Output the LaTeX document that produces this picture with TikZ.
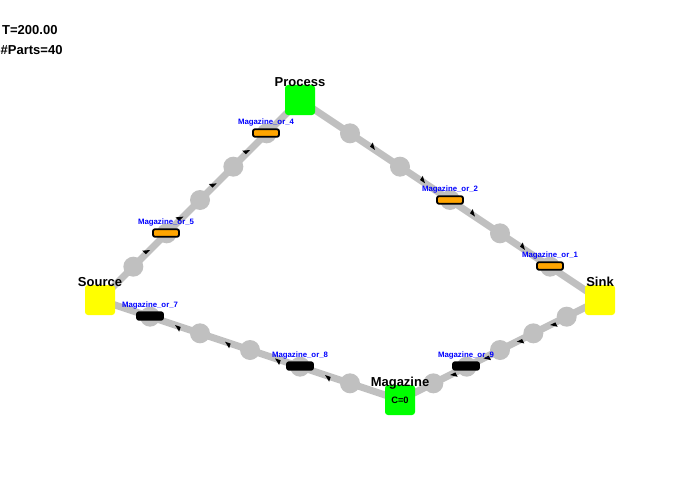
\documentclass[tikz,border=0pt]{standalone}
\usepackage{fontspec}
\setmainfont{Liberation Sans}
\usetikzlibrary{calc,arrows.meta,decorations.markings,backgrounds}

\definecolor{trackgray}{RGB}{192,192,192}
\definecolor{stngreen}{RGB}{0,255,0}
\definecolor{stnyellow}{RGB}{255,255,0}
\definecolor{magorange}{RGB}{255,165,0}
\definecolor{lblblue}{RGB}{0,0,255}

\newcommand{\flowarrow}{\arrow[black]{Triangle[harpoon,length=6pt,width=10pt,line width=0pt]}}

\tikzset{
  info/.style={font=\bfseries\fontsize{13}{13}\selectfont,inner sep=0pt},
  station/.style={rectangle,rounded corners=3pt,minimum size=30pt,inner sep=0pt,
    font=\bfseries\fontsize{9.3}{9.3}\selectfont},
  stnlabel/.style={font=\bfseries\fontsize{13}{13}\selectfont,inner sep=0pt,
    text depth=0pt,label distance=-2pt},
  magbox/.style={rectangle,rounded corners=2pt,draw=black,line width=1.8pt,
    minimum width=26pt,minimum height=7.5pt,inner sep=0pt},
  maglabel/.style={font=\bfseries\fontsize{7.8}{7.8}\selectfont,text=lblblue,
    inner sep=0pt,text depth=0pt,label distance=3.5pt},
  track/.style={draw=trackgray,line width=7pt,postaction={decorate},
    decoration={markings,
      mark=at position 0.25 with {\flowarrow},
      mark=at position 0.4167 with {\flowarrow},
      mark=at position 0.5833 with {\flowarrow},
      mark=at position 0.75 with {\flowarrow}}},
}

\begin{document}
\begin{tikzpicture}[x=1pt,y=-1pt]
	\useasboundingbox (0,0) rectangle (700,500);

	\node[info,anchor=base west] (time) at (2,35) {T=200.00};
	\node[info,anchor=base west] (parts) at (0.5,55) {\#Parts=40};

	\node[station,fill=stnyellow,label={[stnlabel]above:Source}] (src) at (100,300) {};
	\node[station,fill=stngreen,label={[stnlabel]above:Process}] (proc) at (300,100) {};
	\node[station,fill=stnyellow,label={[stnlabel]above:Sink}] (snk) at (600,300) {};
	\node[station,fill=stngreen,label={[stnlabel]above:Magazine}] (mag) at (400,400) {C=0};

	\node[magbox,fill=magorange,label={[maglabel]above:Magazine\_or\_1}] (or1) at (550,266) {};
	\node[magbox,fill=magorange,label={[maglabel]above:Magazine\_or\_2}] (or2) at (450,200) {};
	\node[magbox,fill=magorange,label={[maglabel]above:Magazine\_or\_4}] (or4) at (266,133) {};
	\node[magbox,fill=magorange,label={[maglabel]above:Magazine\_or\_5}] (or5) at (166,233) {};
	\node[magbox,fill=black,label={[maglabel]above:Magazine\_or\_7}] (or7) at (150,316) {};
	\node[magbox,fill=black,label={[maglabel]above:Magazine\_or\_8}] (or8) at (300,366) {};
	\node[magbox,fill=black,label={[maglabel]above:Magazine\_or\_9}] (or9) at (466,366) {};

	\begin{scope}[on background layer]
	\foreach \a/\b in {src/proc,proc/snk,snk/mag,mag/src}
		\foreach \k in {1,...,5}
			\fill[trackgray] ($(\a.center)!\k/6!(\b.center)$) circle (10pt);
	\path[track] (src.center) -- (proc.center);
	\path[track] (proc.center) -- (snk.center);
	\path[track] (snk.center) -- (mag.center);
	\path[track] (mag.center) -- (src.center);
	\end{scope}
\end{tikzpicture}
\end{document}
